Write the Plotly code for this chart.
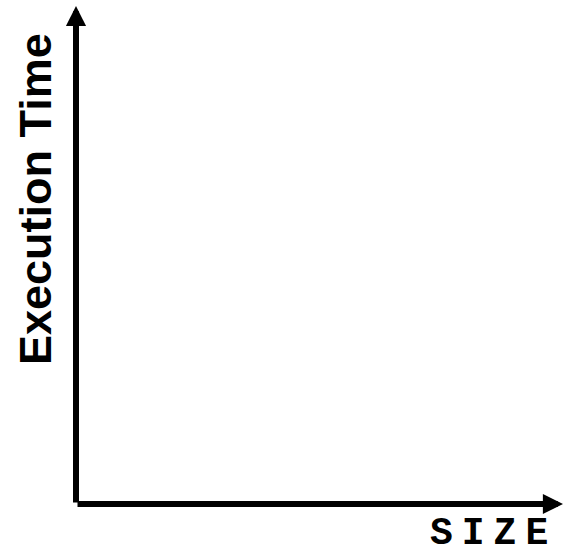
import plotly.graph_objects as go

# Chart content (the reference is an empty axes sketch: no data points)
x_label = "SIZE"
y_label = "Execution Time"
size_values = []
time_values = []

fig = go.Figure()
fig.add_trace(go.Scatter(x=size_values, y=time_values, mode="lines",
                         line=dict(color="black"), showlegend=False))

axis_common = dict(visible=False, range=[0, 1], showgrid=False, zeroline=False,
                   fixedrange=True)

fig.update_layout(
    width=564, height=553,
    margin=dict(l=76, r=1, t=6, b=49, pad=0),
    paper_bgcolor="white", plot_bgcolor="white",
    xaxis=axis_common, yaxis=axis_common,
    showlegend=False,
)

# Axis arrows
arrow_style = dict(showarrow=True, arrowhead=2, arrowwidth=6, arrowsize=0.67,
                   arrowcolor="black", axref="x", ayref="y", xref="x", yref="y",
                   text="", standoff=0, startstandoff=0)
fig.add_annotation(x=0, y=1, ax=0, ay=0, **arrow_style)
fig.add_annotation(x=1, y=0, ax=0, ay=0, **arrow_style)

# Axis labels
fig.add_annotation(
    text=f"<b>{y_label}</b>", xref="paper", yref="paper",
    x=-76/487 + 35/487, y=(504-199)/498, xanchor="center", yanchor="middle",
    textangle=-90, showarrow=False,
    font=dict(family="Liberation Sans, Arial, sans-serif", size=45, color="black"),
)
fig.add_annotation(
    text=f"<b><span style='letter-spacing:9px'>{x_label}</span></b>",
    xref="paper", yref="paper",
    x=(493-76)/487, y=-(533-504)/498, xanchor="center", yanchor="middle",
    height=34, valign="middle",
    showarrow=False,
    font=dict(family="Courier New, Nimbus Mono PS, FreeMono, Liberation Mono, monospace",
              size=38, color="black"),
)

fig.write_html("out.html", config={"displayModeBar": False},
               post_script="document.body.style.margin='0';document.body.style.overflow='hidden';")
